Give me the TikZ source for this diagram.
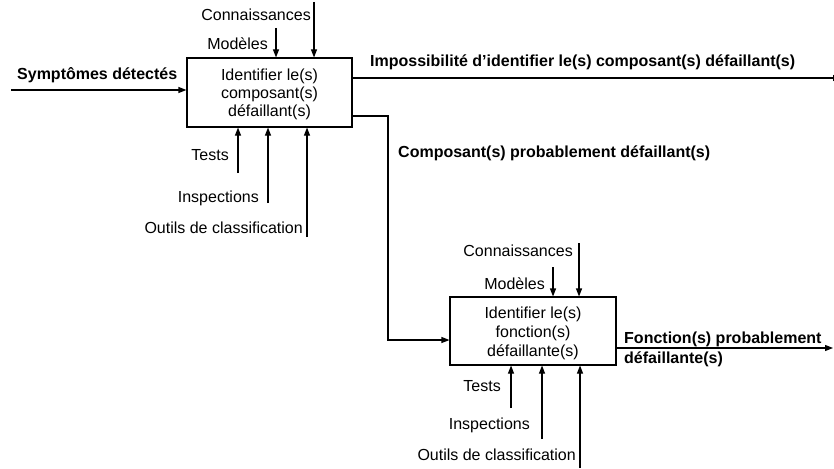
\documentclass[tikz,border=0pt]{standalone}
\usepackage{fontspec}
\setmainfont{Liberation Sans}
\usetikzlibrary{arrows.meta}
\tikzset{
  box/.style={draw, line width=1.1pt, rectangle, inner sep=0pt},
  boxtext/.style={align=center, inner sep=0pt, font=\fontsize{16}{19}\selectfont},
  lbl/.style={inner sep=0pt, font=\fontsize{16}{19}\selectfont},
  blbl/.style={inner sep=0pt, font=\fontsize{16}{20}\selectfont\bfseries},
  arr/.style={line width=1.1pt, -{Triangle[length=8pt,width=6pt]}},
  ln/.style={line width=1.1pt}
}
\begin{document}
\begin{tikzpicture}[x=1pt,y=-1pt]
\useasboundingbox (0,0) rectangle (834,468);

% Box 1
\node[box, minimum width=165pt, minimum height=69pt] (b1) at (269.5,92.5) {};
\node[boxtext] (t1) at (269.5,94.6) {Identifier le(s)\\[-1pt]composant(s)\\[-1pt]défaillant(s)};

% Box 2
\node[box, minimum width=166pt, minimum height=68pt] (b2) at (533,331) {};
\node[boxtext] (t2) at (533,332.9) {Identifier le(s)\\fonction(s)\\défaillante(s)};

% Inputs box 1
\coordinate (s0) at (11,90);
\draw[arr] (s0) -- (s0 -| b1.west);
\node[blbl, anchor=base west] (ls) at (17,80) {Symptômes détectés};

\coordinate (m1) at (276,28);
\draw[arr] (m1) -- (m1 |- b1.north);
\node[lbl, anchor=base east] (lm1) at (268,50) {Modèles};

\coordinate (k1) at (314,2);
\draw[arr] (k1) -- (k1 |- b1.north);
\node[lbl, anchor=base east] (lk1) at (311,21) {Connaissances};

\coordinate (te1) at (238,173);
\draw[arr] (te1) -- (te1 |- b1.south);
\node[lbl, anchor=base east] (lte1) at (229,160) {Tests};

\coordinate (in1) at (268,203);
\draw[arr] (in1) -- (in1 |- b1.south);
\node[lbl, anchor=base east] (lin1) at (259,202) {Inspections};

\coordinate (ou1) at (307,237);
\draw[arr] (ou1) -- (ou1 |- b1.south);
\node[lbl, anchor=base east] (lou1) at (303,233) {Outils de classification};

% Outputs box 1
\coordinate (i1) at (841,78);
\draw[arr] (i1 -| b1.east) -- (i1);
\node[blbl, anchor=base west] (li) at (370,67) {Impossibilité d’identifier le(s) composant(s) défaillant(s)};

\coordinate (c1) at (388,116);
\coordinate (c2) at (388,340);
\draw[arr] (c1 -| b1.east) -- (c1) -- (c2) -- (c2 -| b2.west);
\node[blbl, anchor=base west] (lc) at (398,157) {Composant(s) probablement défaillant(s)};

% Inputs box 2
\coordinate (m2) at (553,267);
\draw[arr] (m2) -- (m2 |- b2.north);
\node[lbl, anchor=base east] (lm2) at (545,289) {Modèles};

\coordinate (k2) at (579,243);
\draw[arr] (k2) -- (k2 |- b2.north);
\node[lbl, anchor=base east] (lk2) at (573,256) {Connaissances};

\coordinate (te2) at (511,408);
\draw[arr] (te2) -- (te2 |- b2.south);
\node[lbl, anchor=base east] (lte2) at (501,391) {Tests};

\coordinate (in2) at (542,439);
\draw[arr] (in2) -- (in2 |- b2.south);
\node[lbl, anchor=base east] (lin2) at (530,429) {Inspections};

\coordinate (ou2) at (580,468);
\draw[arr] (ou2) -- (ou2 |- b2.south);
\node[lbl, anchor=base east] (lou2) at (576,460) {Outils de classification};

% Output box 2
\coordinate (o1) at (833,348);
\draw[arr] (o1 -| b2.east) -- (o1);
\node[blbl, align=left, anchor=north west] (lo) at (624,331.4) {Fonction(s) probablement\\défaillante(s)};
\end{tikzpicture}
\end{document}
